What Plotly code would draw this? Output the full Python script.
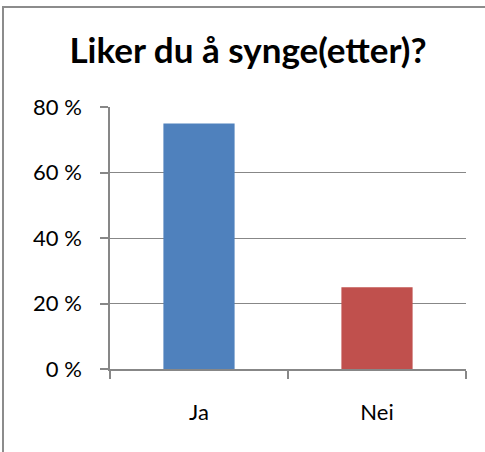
import plotly.graph_objects as go

categories = ['Ja', 'Nei']
values = [75, 25]
colors = ['#4F81BD', '#C0504D']

fig = go.Figure()
fig.add_trace(go.Bar(x=categories, y=values, marker=dict(color=colors, line=dict(width=0)), width=0.4))

W, H = 485, 452
l, r, t, b = 110, 19, 107, 83
pw, ph = W - l - r, H - t - b

fig.update_layout(
    width=W, height=H,
    margin=dict(l=l, r=r, t=t, b=b),
    plot_bgcolor='white', paper_bgcolor='white',
    showlegend=False,
    font=dict(family='Lato, Open Sans, sans-serif', size=22, color='black'),
    title=dict(text='<b>Liker du å synge(etter)?</b>', x=248 / W, xanchor='center',
               y=1 - 51 / H, yanchor='middle', font=dict(size=35)),
    xaxis=dict(showline=True, linecolor='#878787', linewidth=1.5, ticks='outside', tickson='boundaries',
               ticklen=8, tickcolor='#878787', tickwidth=1.5, showgrid=False, ticklabelstandoff=23),
    yaxis=dict(range=[0, 80], dtick=20, ticksuffix=' %', showline=True, linecolor='#878787', linewidth=1.5,
               ticks='outside', ticklen=8, tickcolor='#878787', tickwidth=1.5,
               showgrid=True, gridcolor='#878787', gridwidth=1.2, zeroline=False, ticklabelstandoff=14),
    shapes=[dict(type='rect', xref='paper', yref='paper',
                 x0=(3 - l) / pw, x1=(W + 10 - l) / pw,
                 y0=-(H + 10 - t - ph) / ph, y1=1 + (t - 7) / ph,
                 line=dict(color='#8c8c8c', width=2))],
)

fig.write_html('out.html', config={'displayModeBar': False},
               post_script="document.body.style.margin='0';")
